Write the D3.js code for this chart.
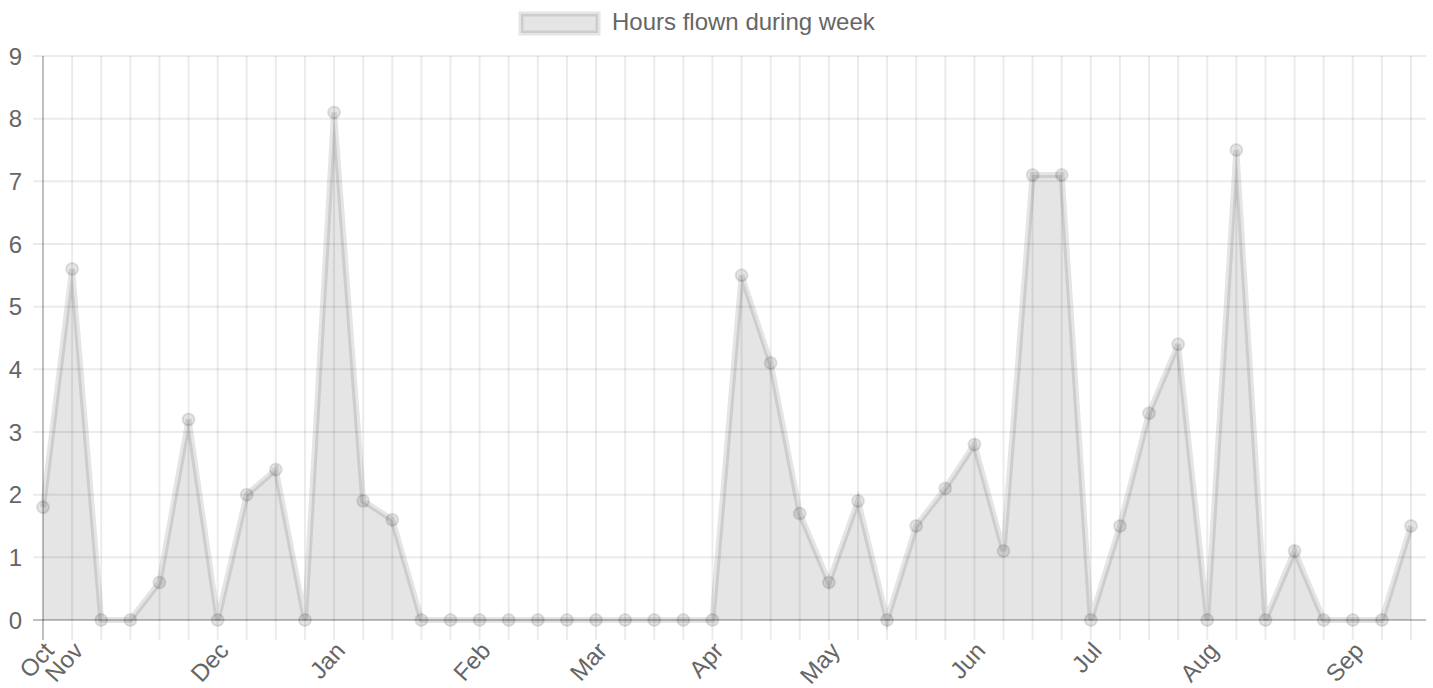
<!DOCTYPE html>
<html>
<head>
<meta charset="utf-8">
<script src="https://cdn.jsdelivr.net/npm/d3@7"></script>
<style>
  html, body { margin: 0; padding: 0; background: #fff; }
  svg { display: block; }
  text { font-family: "Liberation Sans", Arial, Helvetica, sans-serif; fill: #666; }
</style>
</head>
<body>
<svg id="chart" width="1433" height="688"></svg>
<script>
// ---- data ----
const seriesName = "Hours flown during week";
const weekLabels = ["Oct","Nov","","","","","Dec","","","","Jan","","","","","Feb","","","","Mar","","","","Apr",
                    "","","","May","","","","","Jun","","","","Jul","","","","Aug","","","","","Sep","",""];
const hours = [1.8, 5.6, 0, 0, 0.6, 3.2, 0, 2.0, 2.4, 0, 8.1, 1.9, 1.6, 0,
               0, 0, 0, 0, 0, 0, 0, 0, 0, 0,
               5.5, 4.1, 1.7, 0.6, 1.9, 0, 1.5, 2.1, 2.8, 1.1, 7.1, 7.1, 0, 1.5, 3.3, 4.4, 0, 7.5, 0, 1.1, 0, 0, 0, 1.5];
const yTicks = [0, 1, 2, 3, 4, 5, 6, 7, 8, 9];

(function () {
  const svg = d3.select("#chart");
  const pl = 43, pr = 1411, gridRight = 1426, pt = 56, pb = 620;
  const tickLen = 20;
  const idx = d3.range(hours.length);

  const x = d3.scalePoint().domain(idx).range([pl, pr]);
  const y = d3.scaleLinear().domain([0, 9]).range([pb, pt]);

  const gridColor = "rgba(0,0,0,0.08)";
  const zeroColor = "rgba(0,0,0,0.25)";

  // horizontal grid
  svg.append("g").selectAll("line").data(yTicks).join("line")
    .attr("x1", pl - 10).attr("x2", gridRight)
    .attr("y1", d => y(d)).attr("y2", d => y(d))
    .attr("stroke", d => d === 0 ? zeroColor : gridColor)
    .attr("stroke-width", 2);

  // vertical grid
  svg.append("g").selectAll("line").data(idx).join("line")
    .attr("x1", d => x(d)).attr("x2", d => x(d))
    .attr("y1", pt).attr("y2", pb + tickLen)
    .attr("stroke", d => d === 0 ? zeroColor : gridColor)
    .attr("stroke-width", 2);

  // y tick labels
  svg.append("g").selectAll("text").data(yTicks).join("text")
    .attr("x", 22).attr("y", d => y(d))
    .attr("text-anchor", "end").attr("dominant-baseline", "central")
    .style("font-size", "24px")
    .text(d => d);

  // x tick labels (rotated)
  svg.append("g").selectAll("text").data(idx.filter(i => weekLabels[i] !== "")).join("text")
    .attr("transform", d => `translate(${x(d) + 6},${pb + tickLen + 6}) rotate(-48)`)
    .attr("text-anchor", "end").attr("dominant-baseline", "central")
    .style("font-size", "24px")
    .text(d => weekLabels[d]);

  // area + line
  const area = d3.area().x((d, i) => x(i)).y0(y(0)).y1(d => y(d));
  const line = d3.line().x((d, i) => x(i)).y(d => y(d));

  svg.append("path").datum(hours)
    .attr("d", area)
    .attr("fill", "rgba(0,0,0,0.1)");

  svg.append("path").datum(hours)
    .attr("d", line)
    .attr("fill", "none")
    .attr("stroke", "rgba(0,0,0,0.1)")
    .attr("stroke-width", 6)
    .attr("stroke-linejoin", "miter");

  svg.append("g").selectAll("circle").data(hours).join("circle")
    .attr("cx", (d, i) => x(i)).attr("cy", d => y(d))
    .attr("r", 6)
    .attr("fill", "rgba(0,0,0,0.1)")
    .attr("stroke", "rgba(0,0,0,0.1)")
    .attr("stroke-width", 2);

  // legend
  const lg = svg.append("g");
  lg.append("rect")
    .attr("x", 521).attr("y", 14).attr("width", 77).attr("height", 19)
    .attr("fill", "rgba(0,0,0,0.1)")
    .attr("stroke", "rgba(0,0,0,0.1)")
    .attr("stroke-width", 5);
  lg.append("text")
    .attr("x", 612).attr("y", 21)
    .attr("dominant-baseline", "central")
    .style("font-size", "24px")
    .text(seriesName);
})();
</script>
</body>
</html>
